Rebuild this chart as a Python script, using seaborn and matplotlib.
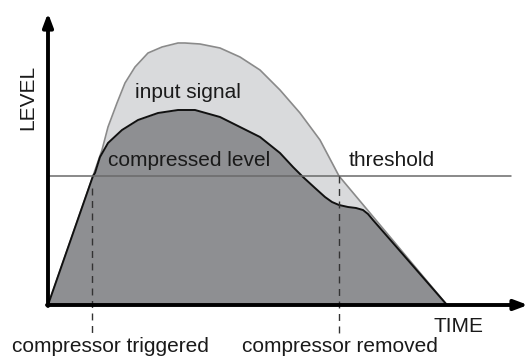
import numpy as np
import pandas as pd
import matplotlib
matplotlib.use("Agg")
import matplotlib.pyplot as plt
import seaborn as sns

# time / level (origin at the corner of the axes)
input_time = [0, 45, 54, 60, 69, 77, 87, 100, 114, 130, 137, 152, 172, 192,
              212, 232, 252, 272, 291, 322, 399]
input_level = [0, 129, 155, 178, 202, 222, 238, 252, 258, 262, 262, 261, 257, 248,
               235, 215, 192, 165, 129, 92, 0]

comp_time = [0, 45, 47, 52, 60, 74, 90, 110, 130, 147, 172, 192, 212, 232, 245,
             255, 267, 277, 284, 291, 300, 308, 315, 320, 325, 399]
comp_level = [0, 129, 132, 148, 162, 175, 185, 192, 195, 195, 188, 178, 168, 152, 138,
              128, 117, 108, 103, 100, 98, 97, 95, 91, 85, 0]

threshold = 129
trigger_time = 44
release_time = 291

sns.set_style("white")
plt.rcParams['font.family'] = ['Liberation Sans', 'DejaVu Sans']

df_in = pd.DataFrame({'time': input_time, 'level': input_level})
df_comp = pd.DataFrame({'time': comp_time, 'level': comp_level})

fig = plt.figure(figsize=(5.29, 3.58), dpi=100)
ax = fig.add_axes([0, 0, 1, 1])
ax.set_xlim(-48, 481)
ax.set_ylim(-53, 305)
ax.axis('off')

# input signal (light) then compressed level (dark) on top
ax.fill_between(df_in['time'], df_in['level'], 0, color='#d9dadc', lw=0, zorder=1)
sns.lineplot(data=df_in, x='time', y='level', color='#8a8a8a', lw=1.2, ax=ax, zorder=2)
ax.fill_between(df_comp['time'], df_comp['level'], 0, color='#8e8f92', lw=0, zorder=3)
sns.lineplot(data=df_comp, x='time', y='level', color='#111111', lw=1.4, ax=ax, zorder=4)

# threshold
ax.plot([0, 463], [threshold, threshold], color='#6a6a6a', lw=1.1, zorder=5)

# trigger / release markers
ax.plot([trigger_time, trigger_time], [117, -33], color='#333333', lw=1,
        ls=(0, (5, 4)), zorder=5)
ax.plot([release_time, release_time], [threshold, -33], color='#333333', lw=1,
        ls=(0, (5, 4)), zorder=5)

# axes with arrows
arrow = dict(arrowstyle='-|>,head_length=0.8,head_width=0.3', lw=2.8,
             color='black', shrinkA=0, shrinkB=0, mutation_scale=10)
ax.annotate('', xy=(480, 0), xytext=(-1, 0), arrowprops=arrow, zorder=6)
ax.annotate('', xy=(0, 292), xytext=(0, -1), arrowprops=arrow, zorder=6)

txt = dict(fontsize=15, color='#1a1a1a', zorder=7)
ax.text(-20, 208, 'LEVEL', rotation=90, ha='center', va='center', **txt)
ax.text(140, 207, 'input signal', ha='center', va='baseline', **txt)
ax.text(141, 139, 'compressed level', ha='center', va='baseline', **txt)
ax.text(301, 139, 'threshold', ha='left', va='baseline', **txt)
ax.text(411, -27, 'TIME', ha='center', va='baseline', **txt)
ax.text(62, -47, 'compressor triggered', ha='center', va='baseline', **txt)
ax.text(292, -47, 'compressor removed', ha='center', va='baseline', **txt)

fig.savefig('out.png', dpi=100)
